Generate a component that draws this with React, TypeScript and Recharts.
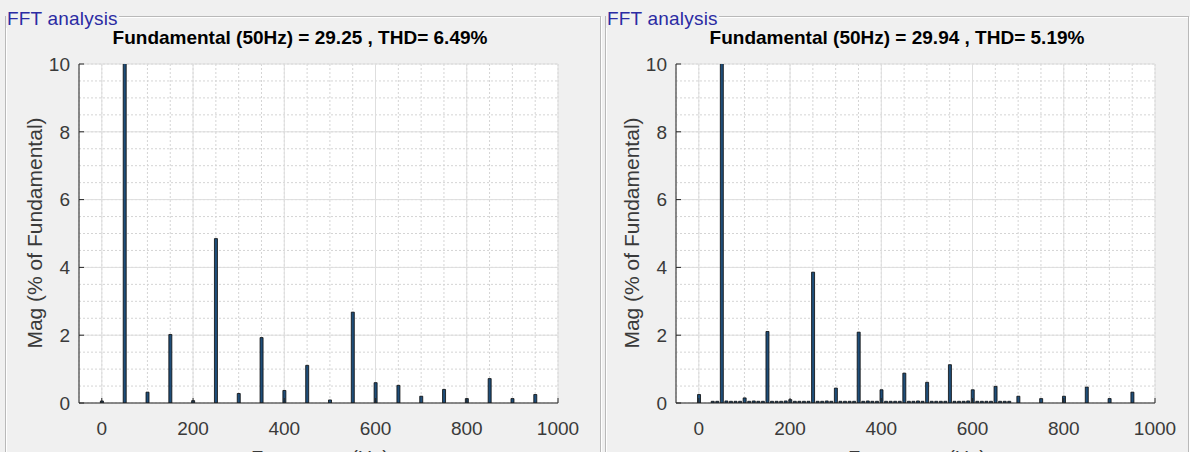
import React from 'react'
import { BarChart, Bar, XAxis, YAxis, CartesianGrid } from 'recharts'

// left spectrum (harmonic bins, 50 Hz step)
const leftFreq = [0, 50, 100, 150, 200, 250, 300, 350, 400, 450, 500, 550, 600, 650, 700, 750, 800, 850, 900, 950]
const leftMag = [0.06, 100, 0.32, 2.02, 0.07, 4.85, 0.28, 1.93, 0.37, 1.11, 0.09, 2.68, 0.6, 0.52, 0.2, 0.4, 0.13, 0.72, 0.13, 0.25]

// right spectrum: harmonics plus a low floor of 10 Hz bins
const rightFreq = [0, 50, 100, 150, 200, 250, 300, 350, 400, 450, 500, 550, 600, 650, 700, 750, 800, 850, 900, 950]
const rightMag = [0.25, 100, 0.15, 2.11, 0.1, 3.86, 0.44, 2.09, 0.39, 0.88, 0.61, 1.13, 0.39, 0.49, 0.2, 0.13, 0.2, 0.47, 0.13, 0.32]
const floorFreq = [30, 40, 60, 70, 80, 90, 110, 120, 130, 140, 160, 170, 180, 190, 210, 220, 230, 240, 260, 270, 280, 290, 310, 320, 330, 340, 360, 370, 380, 390, 410, 420, 430, 440, 460, 470, 480, 490, 510, 520, 530, 540, 560, 570, 580, 590, 610, 620, 630, 640, 660, 670, 680]
const floorMag = [0.05, 0.05, 0.06, 0.05, 0.05, 0.05, 0.05, 0.06, 0.05, 0.05, 0.05, 0.05, 0.05, 0.06, 0.05, 0.05, 0.05, 0.05, 0.05, 0.05, 0.06, 0.05, 0.05, 0.05, 0.05, 0.05, 0.05, 0.06, 0.05, 0.05, 0.05, 0.05, 0.05, 0.05, 0.05, 0.05, 0.06, 0.05, 0.05, 0.05, 0.05, 0.05, 0.05, 0.05, 0.05, 0.06, 0.05, 0.05, 0.05, 0.05, 0.05, 0.05, 0.05]

const xTicks = [0, 200, 400, 600, 800, 1000]
const xMinorTicks = [0, 50, 100, 150, 200, 250, 300, 350, 400, 450, 500, 550, 600, 650, 700, 750, 800, 850, 900, 950, 1000]
const yTicks = [0, 2, 4, 6, 8, 10]
const yMinorTicks = [0, 0.5, 1, 1.5, 2, 2.5, 3, 3.5, 4, 4.5, 5, 5.5, 6, 6.5, 7, 7.5, 8, 8.5, 9, 9.5, 10]

const titles = ['Fundamental (50Hz) = 29.25 , THD= 6.49%', 'Fundamental (50Hz) = 29.94 , THD= 5.19%']

const leftData = leftFreq.map((f, i) => ({ freq: f, mag: leftMag[i] }))
const rightData = [
  ...rightFreq.map((f, i) => ({ freq: f, mag: rightMag[i] })),
  ...floorFreq.map((f, i) => ({ freq: f, mag: floorMag[i] }))
].sort((a, b) => a.freq - b.freq)

const font = '"Liberation Sans", Arial, sans-serif'
const tickStyle = { fontSize: 19, fill: '#3a3a3a', fontFamily: font }

interface PanelProps {
  data: { freq: number; mag: number }[]
  title: string
  x: number
  boxLeft: number
  boxRight: number
}

const FftPanel: React.FC<PanelProps> = ({ data, title, x, boxLeft, boxRight }) => {
  return (
    <>
      {/* group box */}
      <div
        style={{
          position: 'absolute',
          left: boxLeft,
          top: 16,
          width: boxRight - boxLeft,
          height: 460,
          border: '1px solid #b9b9b9',
          boxShadow: 'inset 1px 1px 0 #fff, 1px 1px 0 #fff'
        }}
      />
      <div
        style={{
          position: 'absolute',
          left: boxLeft + 1,
          top: 9,
          padding: '0 1px',
          background: '#f0f0f0',
          color: '#2b2ba3',
          fontFamily: font,
          fontSize: 19,
          lineHeight: '19px',
          letterSpacing: 0.2,
          whiteSpace: 'nowrap'
        }}
      >
        FFT analysis
      </div>
      <div style={{ position: 'absolute', left: x, top: 0 }}>
        <BarChart
          width={600}
          height={452}
          data={data}
          margin={{ top: 64, right: 42, bottom: 19, left: 39 }}
        >
          <XAxis xAxisId='minor' type='number' dataKey='freq' domain={[-50, 1000]} ticks={xMinorTicks} interval={0} allowDataOverflow hide />
          <YAxis yAxisId='minor' type='number' domain={[0, 10]} ticks={yMinorTicks} interval={0} allowDataOverflow hide />
          <CartesianGrid xAxisId='minor' yAxisId='minor' stroke='#d4d4d4' strokeDasharray='2 2' fill='#fff' />
          <CartesianGrid stroke='#dedede' />
          <XAxis
            type='number'
            dataKey='freq'
            domain={[-50, 1000]}
            ticks={xTicks}
            interval={0}
            allowDataOverflow
            height={30}
            tickSize={-5}
            tickMargin={24}
            tick={tickStyle}
            stroke='#262626'
          />
          <XAxis
            xAxisId='top'
            orientation='top'
            type='number'
            domain={[-50, 1000]}
            ticks={xTicks}
            interval={0}
            allowDataOverflow
            height={0}
            tickSize={-5}
            tick={false}
            stroke='#262626'
          />
          <YAxis
            type='number'
            domain={[0, 10]}
            ticks={yTicks}
            interval={0}
            allowDataOverflow
            width={40}
            tickSize={-5}
            tickMargin={14}
            tick={tickStyle}
            stroke='#262626'
          />
          <YAxis
            yAxisId='right'
            orientation='right'
            type='number'
            domain={[0, 10]}
            ticks={yTicks}
            interval={0}
            allowDataOverflow
            width={0}
            tickSize={-5}
            tick={false}
            stroke='#262626'
          />
          <Bar dataKey='mag' fill='#1f4e79' stroke='#0a0a0a' strokeWidth={0.8} barSize={3} isAnimationActive={false} />
        </BarChart>
        <div
          style={{
            position: 'absolute',
            left: 300 - 250,
            top: 28,
            width: 500,
            textAlign: 'center',
            fontFamily: font,
            fontWeight: 'bold',
            fontSize: 19,
            lineHeight: '19px',
            color: '#000',
            whiteSpace: 'nowrap'
          }}
        >
          {title}
        </div>
        <div
          style={{
            position: 'absolute',
            left: 35 - 150,
            top: 233 - 11,
            width: 300,
            textAlign: 'center',
            fontFamily: font,
            fontSize: 21,
            lineHeight: '22px',
            color: '#3a3a3a',
            transform: 'rotate(-90deg)',
            whiteSpace: 'nowrap'
          }}
        >
          Mag (% of Fundamental)
        </div>
        <div
          style={{
            position: 'absolute',
            left: 320 - 150,
            top: 448,
            width: 300,
            textAlign: 'center',
            fontFamily: font,
            fontSize: 20,
            lineHeight: '20px',
            color: '#3a3a3a',
            whiteSpace: 'nowrap'
          }}
        >
          Frequency (Hz)
        </div>
      </div>
    </>
  )
}

export default function App() {
  return (
    <div
      style={{
        position: 'absolute',
        left: 0,
        top: 0,
        width: 1190,
        height: 452,
        overflow: 'hidden',
        background: '#f0f0f0'
      }}
    >
      <FftPanel data={leftData} title={titles[0]} x={0} boxLeft={5} boxRight={599} />
      <FftPanel data={rightData} title={titles[1]} x={597} boxLeft={605} boxRight={1187} />
    </div>
  )
}
